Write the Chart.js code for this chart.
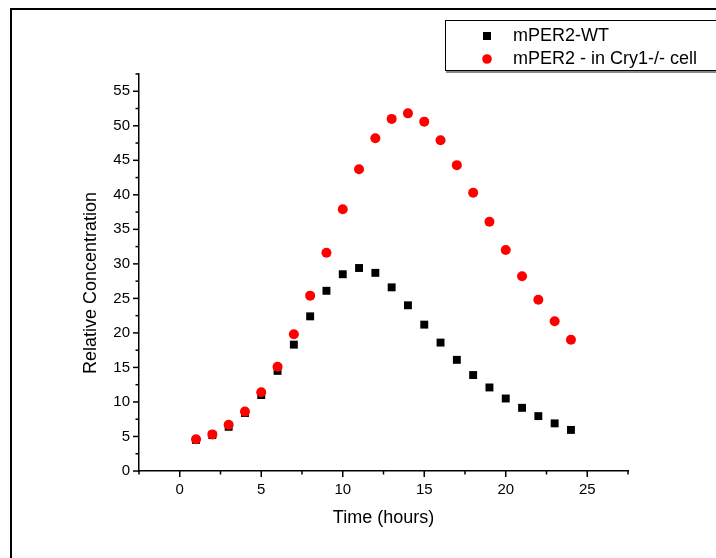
<!DOCTYPE html>
<html>
<head>
<meta charset="utf-8">
<script src="https://cdn.jsdelivr.net/npm/chart.js@4/dist/chart.umd.min.js"></script>
<style>
  html, body { margin: 0; padding: 0; background: #fff; }
</style>
</head>
<body>
<canvas id="grafico" width="716" height="558"></canvas>
<script>
// dados
const hours = [1, 2, 3, 4, 5, 6, 7, 8, 9, 10, 11, 12, 13, 14, 15, 16, 17, 18, 19, 20, 21, 22, 23, 24];
const wtValues = [4.5, 5.2, 6.4, 8.4, 11.0, 14.5, 18.3, 22.4, 26.1, 28.5, 29.4, 28.7, 26.6, 24.0, 21.2, 18.6, 16.1, 13.9, 12.1, 10.5, 9.15, 7.95, 6.9, 5.95];
const cry1Values = [4.6, 5.3, 6.7, 8.6, 11.4, 15.1, 19.8, 25.4, 31.6, 37.9, 43.7, 48.2, 51.0, 51.8, 50.6, 47.9, 44.3, 40.3, 36.1, 32.0, 28.2, 24.8, 21.7, 19.0];
const seriesNames = ["mPER2-WT", "mPER2 - in Cry1-/- cell"];
const xTitle = "Time (hours)";
const yTitle = "Relative Concentration";
const xLimits = [-2.5, 27.5];
const yLimits = [0, 57.5];
const tickStep = 2.5;
const labelStep = 5;

const fonte = '"Liberation Sans", Arial, sans-serif';

function toPoints(xs, ys) {
  return xs.map((x, i) => ({ x: x, y: ys[i] }));
}

function isMajor(v) {
  return Math.abs(v / labelStep - Math.round(v / labelStep)) < 1e-6;
}

// moldura, ticks menores/maiores, titulos e legenda
const extras = {
  id: "extras",
  afterDraw(chart) {
    const ctx = chart.ctx;
    const area = chart.chartArea;
    const xs = chart.scales.x;
    const ys = chart.scales.y;
    ctx.save();

    ctx.strokeStyle = "#000";
    ctx.lineWidth = 2;
    ctx.strokeRect(11, 9, 800, 800);

    ctx.lineWidth = 1.5;
    xs.ticks.forEach((t) => {
      const px = xs.getPixelForValue(t.value);
      const len = isMajor(t.value) ? 6 : 3.5;
      ctx.beginPath();
      ctx.moveTo(px, area.bottom);
      ctx.lineTo(px, area.bottom + len);
      ctx.stroke();
    });
    ys.ticks.forEach((t) => {
      const py = ys.getPixelForValue(t.value);
      const len = isMajor(t.value) ? 6 : 3.5;
      ctx.beginPath();
      ctx.moveTo(area.left, py);
      ctx.lineTo(area.left - len, py);
      ctx.stroke();
    });

    ctx.fillStyle = "#000";
    ctx.font = "18px " + fonte;
    ctx.textAlign = "center";
    ctx.textBaseline = "middle";
    ctx.fillText(xTitle, (area.left + area.right) / 2, 518);
    ctx.save();
    ctx.translate(91, 283);
    ctx.rotate(-Math.PI / 2);
    ctx.fillText(yTitle, 0, 0);
    ctx.restore();

    // legenda
    ctx.fillStyle = "#8a8a8a";
    ctx.fillRect(446, 22, 300, 51);
    ctx.fillStyle = "#fff";
    ctx.fillRect(445, 20, 300, 50);
    ctx.strokeStyle = "#000";
    ctx.lineWidth = 1;
    ctx.strokeRect(445.5, 20.5, 300, 50);

    ctx.textAlign = "left";
    chart.data.datasets.forEach((ds, i) => {
      const ly = 36 + i * 23;
      ctx.fillStyle = ds.backgroundColor;
      if (ds.pointStyle === "rect") {
        ctx.fillRect(483, ly - 4, 8, 8);
      } else {
        ctx.beginPath();
        ctx.arc(487, ly, 4.8, 0, Math.PI * 2);
        ctx.fill();
      }
      ctx.fillStyle = "#000";
      ctx.fillText(ds.label, 513, ly);
    });
    ctx.restore();
  },
};

new Chart(document.getElementById("grafico"), {
  type: "scatter",
  data: {
    datasets: [
      {
        label: seriesNames[0],
        data: toPoints(hours, wtValues),
        pointStyle: "rect",
        pointRadius: 5.6,
        pointHoverRadius: 5.6,
        backgroundColor: "#000",
        borderColor: "#000",
        borderWidth: 0,
        order: 2,
      },
      {
        label: seriesNames[1],
        data: toPoints(hours, cry1Values),
        pointStyle: "circle",
        pointRadius: 5,
        pointHoverRadius: 5,
        backgroundColor: "#ff0000",
        borderColor: "#ff0000",
        borderWidth: 0,
        order: 1,
      },
    ],
  },
  options: {
    responsive: false,
    animation: false,
    devicePixelRatio: 1,
    layout: {
      padding: { left: 79, right: 88, top: 74, bottom: 47 },
    },
    plugins: {
      legend: { display: false },
      tooltip: { enabled: false },
    },
    scales: {
      x: {
        type: "linear",
        min: xLimits[0],
        max: xLimits[1],
        afterFit(scale) {
          scale.height = 40;
        },
        border: { display: true, color: "#000", width: 1.5 },
        grid: { display: false, drawTicks: false },
        ticks: {
          stepSize: tickStep,
          autoSkip: false,
          maxRotation: 0,
          includeBounds: true,
          padding: 10,
          color: "#000",
          font: { family: fonte, size: 15 },
          callback: (v) => (isMajor(v) ? Math.round(v) : ""),
        },
      },
      y: {
        type: "linear",
        min: yLimits[0],
        max: yLimits[1],
        afterFit(scale) {
          scale.width = 60;
        },
        border: { display: true, color: "#000", width: 1.5 },
        grid: { display: false, drawTicks: false },
        ticks: {
          stepSize: tickStep,
          autoSkip: false,
          includeBounds: true,
          padding: 9,
          color: "#000",
          font: { family: fonte, size: 15 },
          callback: (v) => (isMajor(v) ? Math.round(v) : ""),
        },
      },
    },
  },
  plugins: [extras],
});
</script>
</body>
</html>
